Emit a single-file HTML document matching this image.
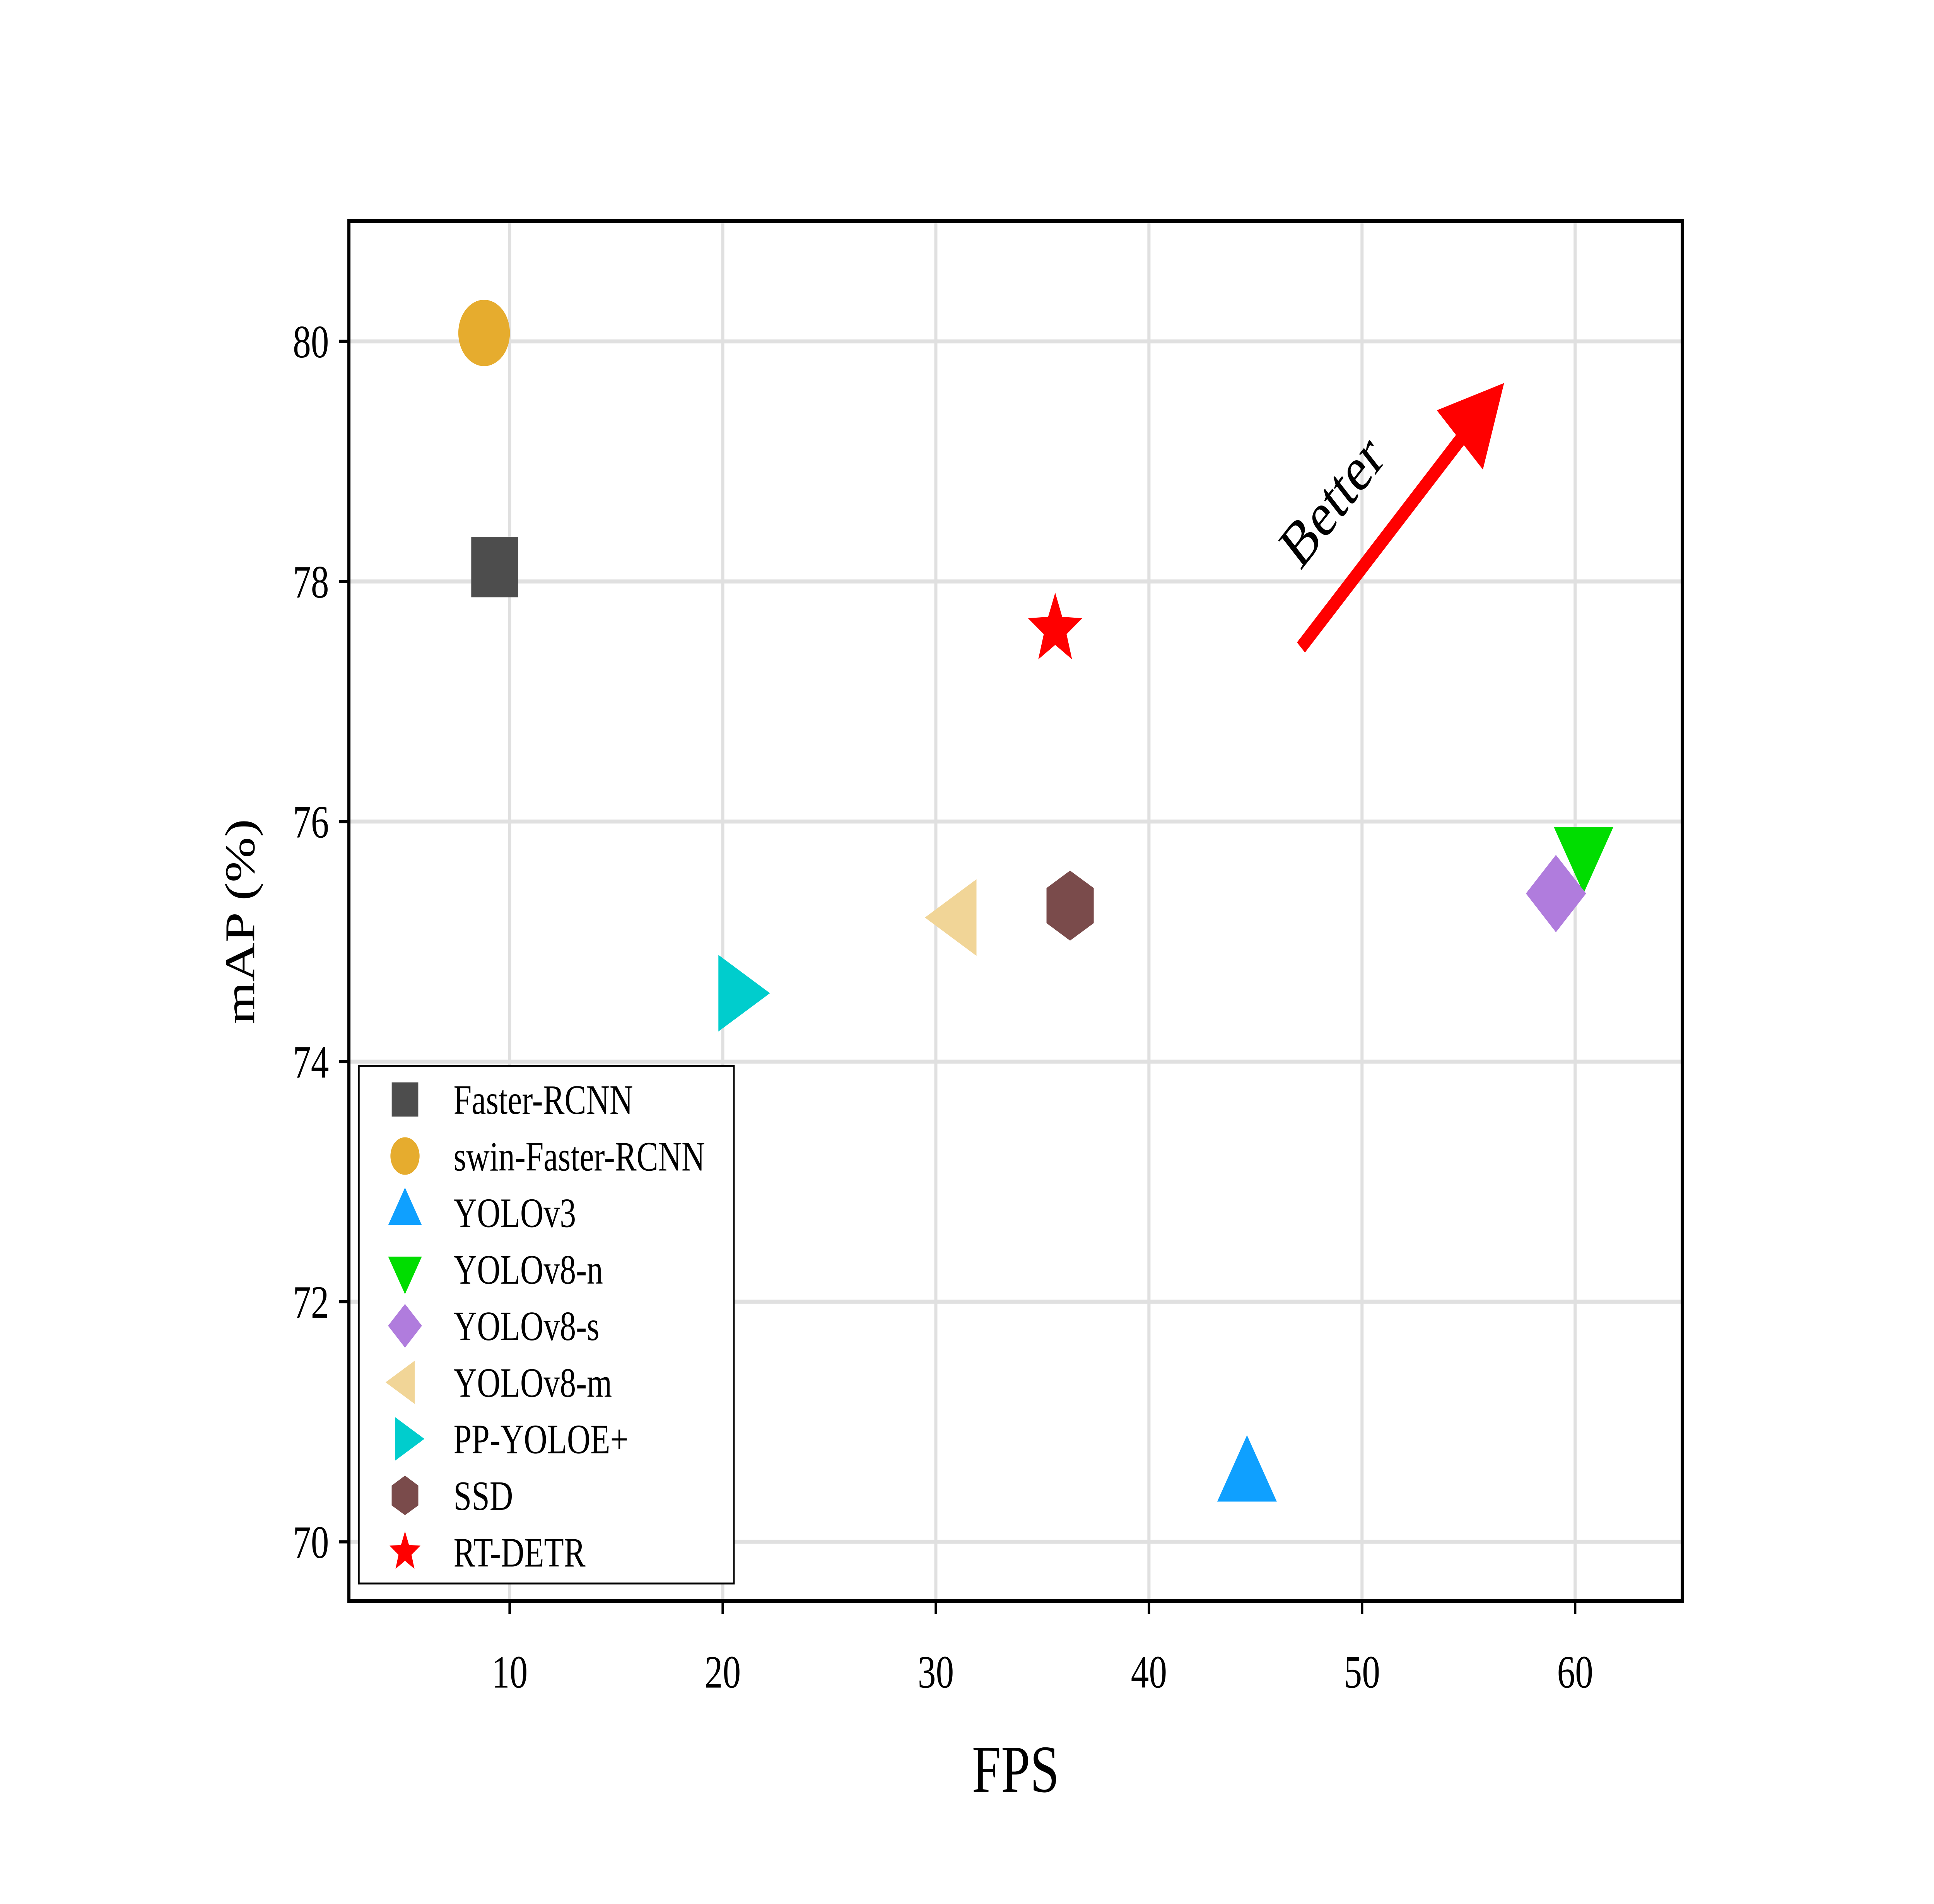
<!DOCTYPE html>
<html><head><meta charset="utf-8"><style>
html,body{margin:0;padding:0;background:#fff;width:100%;height:100%;overflow:hidden}
svg{display:block;position:fixed;left:0;top:0;width:100vw;height:100vh}
text{font-family:"Liberation Serif",serif;fill:#000}
</style></head><body>
<svg id="chart" viewBox="0 0 1552 1188" preserveAspectRatio="none" xmlns="http://www.w3.org/2000/svg">
<rect width="1552" height="1188" fill="#fff"/>
<g id="grid"></g>
<g id="marks"></g>
<g id="arrow">
<line x1="1044" y1="404" x2="1180" y2="266" stroke="#ff0000" stroke-width="9"/>
<polygon points="1207,239 1190,293 1153,256" fill="#ff0000"/>
<text x="1078" y="322" font-size="40" text-anchor="middle" transform="rotate(-45 1078 322)">Better</text>
</g>
<rect x="280" y="138" width="1070" height="861" fill="none" stroke="#000" stroke-width="2.5"/>
<g id="ticks"></g>
<text x="815" y="1118" font-size="42" text-anchor="middle">FPS</text>
<text x="204" y="575" font-size="34" text-anchor="middle" transform="rotate(-90 204 575)">mAP (%)</text>
<g id="legend">
<rect x="288" y="665" width="301" height="323" fill="#fff" stroke="#000" stroke-width="1.2"/>
</g>
</svg>
<script>
const models=["Faster-RCNN","swin-Faster-RCNN","YOLOv3","YOLOv8-n","YOLOv8-s","YOLOv8-m","PP-YOLOE+","SSD","RT-DETR"];
const fpsValues=[9.3,8.8,44.6,60.4,59.1,31.1,20.6,36.3,35.6];
const mapValues=[78.12,80.07,70.52,75.77,75.4,75.2,74.57,75.3,77.6];
const markerTypes=["square","circle","tri-up","tri-down","diamond","tri-left","tri-right","hexagon","star"];
const colors=["#4d4d4d","#e6ac2e","#0fa0ff","#00dd00","#b07cdd","#f1d597","#00cdcd","#7a4b4b","#ff0000"];
const xTicks=[10,20,30,40,50,60];
const yTicks=[70,72,74,76,78,80];
const NS="http://www.w3.org/2000/svg";
const X=v=>238+17.1*v;
const Y=v=>213+74.9*(80-v);
function el(t,a,p){const e=document.createElementNS(NS,t);for(const k in a)e.setAttribute(k,a[k]);p.appendChild(e);return e;}
function shape(type,cx,cy,r,color,parent){
  let pts;
  const poly=(n,rot,rr)=>{let s=[];for(let i=0;i<n;i++){const a=rot+i*2*Math.PI/n;s.push((cx+rr*Math.cos(a)).toFixed(1)+","+(cy+rr*Math.sin(a)).toFixed(1));}return s.join(" ");};
  const tr=r*1.2;
  if(type==="circle")return el("circle",{cx:cx,cy:cy,r:r*0.9,fill:color},parent);
  if(type==="square")return el("rect",{x:cx-r*0.82,y:cy-r*0.82,width:r*1.64,height:r*1.64,fill:color},parent);
  if(type==="tri-up")pts=poly(3,-Math.PI/2,tr);
  else if(type==="tri-down")pts=poly(3,Math.PI/2,tr);
  else if(type==="tri-left")pts=poly(3,Math.PI,tr);
  else if(type==="tri-right")pts=poly(3,0,tr);
  else if(type==="diamond")pts=poly(4,0,r*1.05);
  else if(type==="hexagon")pts=poly(6,-Math.PI/2,r*0.95);
  else if(type==="star"){let s=[];for(let i=0;i<10;i++){const rr=i%2?r*0.42:r;const a=-Math.PI/2+i*Math.PI/5;s.push((cx+rr*Math.cos(a)).toFixed(1)+","+(cy+rr*Math.sin(a)).toFixed(1));}pts=s.join(" ");}
  return el("polygon",{points:pts,fill:color},parent);
}
const grid=document.getElementById("grid"),ticks=document.getElementById("ticks");
xTicks.forEach(v=>{
  const g=el("line",{x1:X(v),x2:X(v),y1:138,y2:999,stroke:"#e0e0e0","stroke-width":2.5},grid);
  
  
  el("line",{x1:X(v),x2:X(v),y1:999,y2:1007,stroke:"#000","stroke-width":2},ticks);
  const t=el("text",{x:X(v),y:1053,"font-size":29,"text-anchor":"middle"},ticks);t.textContent=v;
  
  
});
yTicks.forEach(v=>{
  const g=el("line",{x1:280,x2:1350,y1:Y(v),y2:Y(v),stroke:"#e0e0e0","stroke-width":2.5},grid);
  
  
  el("line",{x1:272,x2:280,y1:Y(v),y2:Y(v),stroke:"#000","stroke-width":2},ticks);
  const t=el("text",{x:264,y:Y(v)+10,"font-size":29,"text-anchor":"end"},ticks);t.textContent=v;
  
  
});
const marks=document.getElementById("marks"),legend=document.getElementById("legend");
models.forEach((m,i)=>{
  const p=shape(markerTypes[i],X(fpsValues[i]),Y(mapValues[i]),23,colors[i],marks);
  
  
  const ly=686+35.3*i;
  const lm=shape(markerTypes[i],325,ly,13,colors[i],legend);
  
  
  const t=el("text",{x:364,y:ly+9,"font-size":26},legend);t.textContent=m;
  
  
});
</script>
</body></html>
